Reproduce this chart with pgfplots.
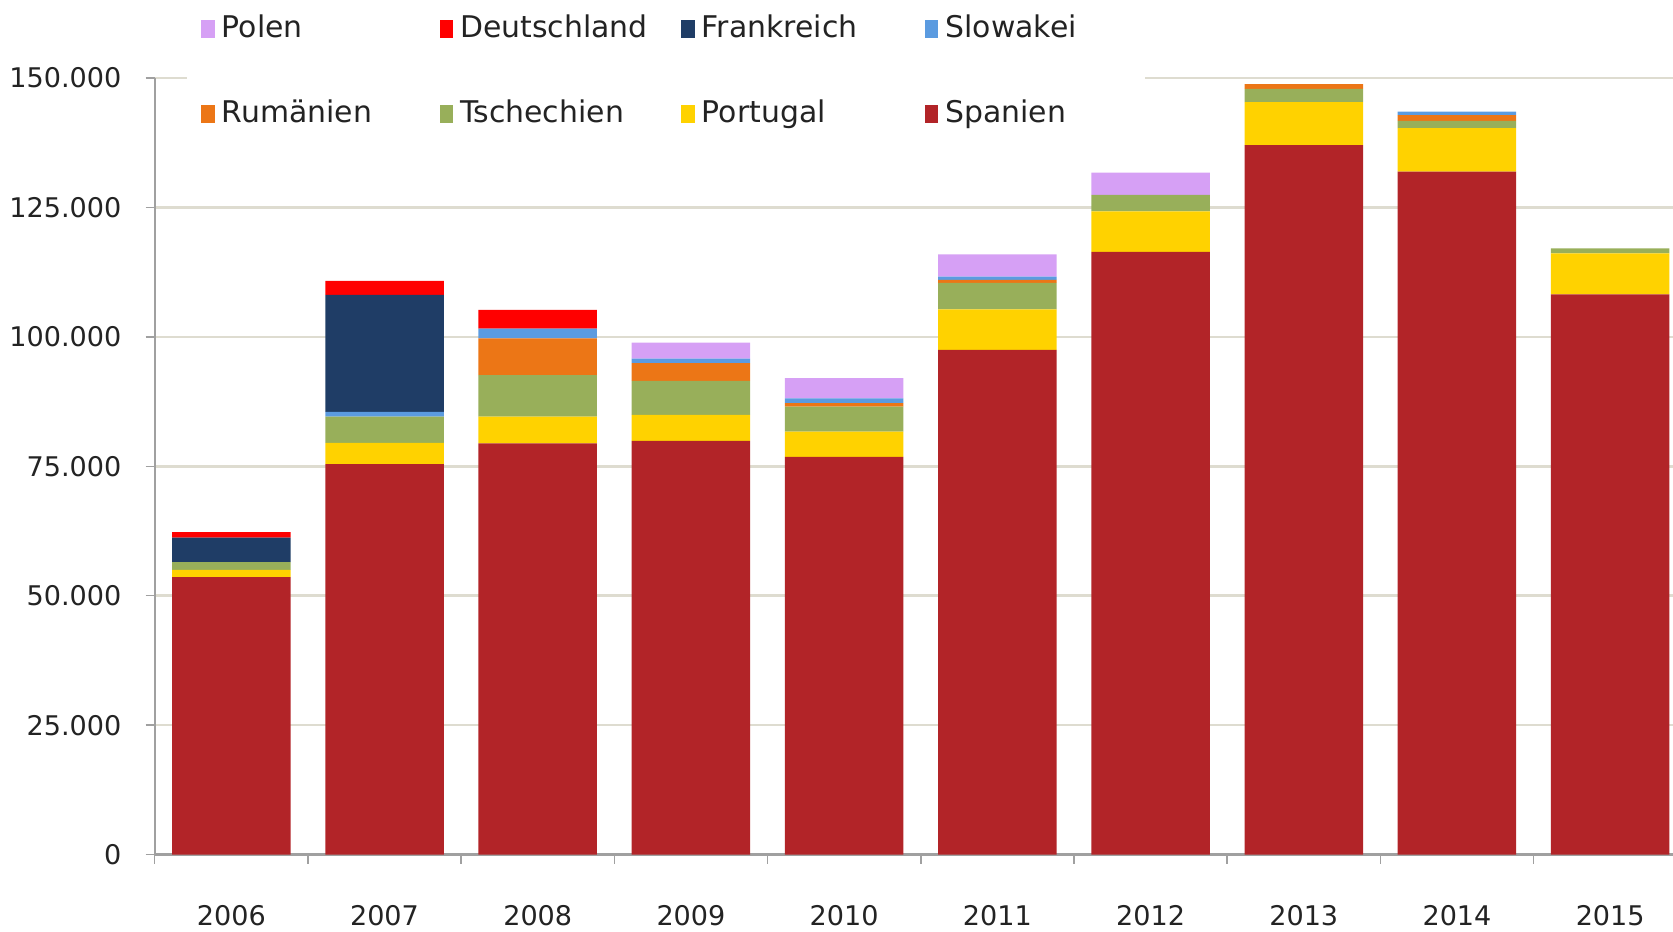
\documentclass[border=0pt]{standalone}
\usepackage{pgfplots}
\pgfplotsset{compat=1.18}
\usepackage{fontspec}
\setmainfont{DejaVu Sans}
\definecolor{spanien}{RGB}{178,36,40}
\definecolor{portugal}{RGB}{255,210,0}
\definecolor{tschechien}{RGB}{152,175,90}
\definecolor{rumaenien}{RGB}{236,118,22}
\definecolor{slowakei}{RGB}{91,155,224}
\definecolor{frankreich}{RGB}{31,61,102}
\definecolor{deutschland}{RGB}{255,0,0}
\definecolor{polen}{RGB}{214,160,245}
\definecolor{gridc}{RGB}{222,220,208}
\definecolor{axc}{RGB}{160,160,160}
\definecolor{txt}{RGB}{35,35,35}
\pgfplotsset{legsq/.style={legend image code/.code={\fill[##1, draw=none] (0mm,-0.9mm) rectangle (1.35mm,0.9mm);}}}
\begin{document}
\begin{tikzpicture}
\begin{axis}[
  at={(0,0)}, anchor=south west,
  scale only axis, width=151.83mm, height=77.67mm,
  ybar stacked, bar width=11.85mm,
  xmin=-0.5, xmax=9.41, ymin=0, ymax=150000,
  axis x line*=bottom, axis y line*=left,
  x axis line style={draw=axc, line width=0.3mm, -},
  y axis line style={draw=axc, line width=0.2mm, -},
  xtick={-0.5,0.5,...,8.5}, xticklabels={},
  extra x ticks={0,1,2,3,4,5,6,7,8,9},
  extra x tick labels={2006,2007,2008,2009,2010,2011,2012,2013,2014,2015},
  extra x tick style={major tick length=0pt, grid=none},
  ytick={0,25000,50000,75000,100000,125000,150000},
  scaled y ticks=false,
  ymajorgrids, grid style={color=gridc, line width=0.25mm},
  tick align=outside, major tick length=0.9mm,
  tick style={draw=axc, line width=0.15mm},
  tick label style={font=\fontsize{7.7pt}{9pt}\selectfont, text=txt},
  xticklabel style={yshift=-3.8mm},
  yticklabel style={xshift=-1.2mm, /pgf/number format/fixed, /pgf/number format/precision=0, /pgf/number format/1000 sep={.}, /pgf/number format/assume math mode=true},
  legend columns=4,
  legend cell align=left,
  legend style={at={(axis description cs:0.021,1.0935)}, anchor=north west,
    fill=white, draw=none, font=\fontsize{8.5pt}{10pt}\selectfont, text=txt,
    /tikz/every even column/.append style={column sep=0mm},
    row sep=4.25mm, inner xsep=1.4mm, inner ysep=0.2mm},
]
\addplot[fill=spanien, draw=none, forget plot] coordinates {(0,53600) (1,75400) (2,79400) (3,79900) (4,76800) (5,97500) (6,116400) (7,137000) (8,131900) (9,108200)};
\addplot[fill=portugal, draw=none, forget plot] coordinates {(0,1400) (1,4100) (2,5200) (3,5000) (4,4900) (5,7800) (6,7800) (7,8300) (8,8400) (9,7900)};
\addplot[fill=tschechien, draw=none, forget plot] coordinates {(0,1500) (1,5100) (2,8000) (3,6600) (4,4800) (5,5100) (6,3200) (7,2600) (8,1400) (9,1000)};
\addplot[fill=rumaenien, draw=none, forget plot] coordinates {(0,0) (1,0) (2,7100) (3,3400) (4,700) (5,600) (6,0) (7,900) (8,1100) (9,0)};
\addplot[fill=slowakei, draw=none, forget plot] coordinates {(0,0) (1,900) (2,1900) (3,900) (4,900) (5,600) (6,0) (7,0) (8,700) (9,0)};
\addplot[fill=frankreich, draw=none, forget plot] coordinates {(0,4700) (1,22600) (2,0) (3,0) (4,0) (5,0) (6,0) (7,0) (8,0) (9,0)};
\addplot[fill=deutschland, draw=none, forget plot] coordinates {(0,1100) (1,2700) (2,3600) (3,0) (4,0) (5,0) (6,0) (7,0) (8,0) (9,0)};
\addplot[fill=polen, draw=none, forget plot] coordinates {(0,0) (1,0) (2,0) (3,3100) (4,3900) (5,4300) (6,4300) (7,0) (8,0) (9,0)};
\addlegendimage{legsq, fill=polen}\addlegendentry{\makebox[21.1mm][l]{Polen}}
\addlegendimage{legsq, fill=deutschland}\addlegendentry{\makebox[21.4mm][l]{Deutschland}}
\addlegendimage{legsq, fill=frankreich}\addlegendentry{\makebox[21.6mm][l]{Frankreich}}
\addlegendimage{legsq, fill=slowakei}\addlegendentry{\makebox[17.8mm][l]{Slowakei}}
\addlegendimage{legsq, fill=rumaenien}\addlegendentry{\makebox[21.1mm][l]{Rumänien}}
\addlegendimage{legsq, fill=tschechien}\addlegendentry{\makebox[21.4mm][l]{Tschechien}}
\addlegendimage{legsq, fill=portugal}\addlegendentry{\makebox[21.6mm][l]{Portugal}}
\addlegendimage{legsq, fill=spanien}\addlegendentry{\makebox[17.8mm][l]{Spanien}}
\end{axis}
\pgfresetboundingbox
\path[use as bounding box] (-15.47mm,-7.64mm) rectangle (151.83mm,85.46mm);
\end{tikzpicture}
\end{document}
